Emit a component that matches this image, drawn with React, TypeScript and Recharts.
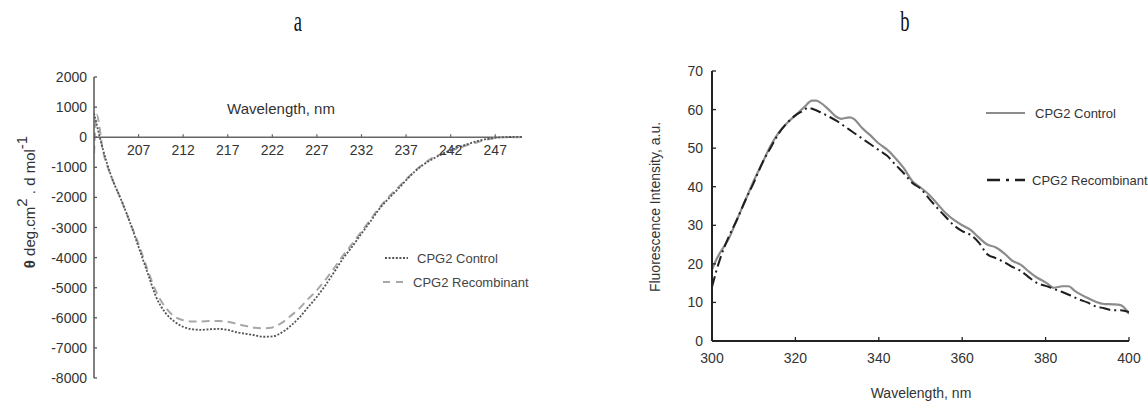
import React from 'react';
import { LineChart, Line, XAxis, YAxis, ReferenceLine, ReferenceDot } from 'recharts';

// ---------- Panel a: CD spectra ----------
const cdControlWavelengths = [202, 203, 204, 205, 206, 207, 208, 209, 210, 211, 212, 213, 214, 215, 216, 217, 218, 219, 220, 221, 222, 223, 224, 225, 226, 227, 228, 229, 230, 231, 232, 233, 234, 235, 236, 237, 238, 239, 240, 241, 242, 243, 244, 245, 246, 247, 248, 249, 250];
const cdControl = [800, -400, -1350, -2050, -2800, -3650, -4500, -5330, -5830, -6120, -6300, -6380, -6400, -6380, -6370, -6400, -6480, -6530, -6580, -6630, -6620, -6500, -6280, -6000, -5650, -5300, -4900, -4450, -4000, -3620, -3200, -2800, -2380, -2050, -1750, -1430, -1130, -900, -720, -560, -430, -320, -220, -130, -60, -20, 0, 10, 10];

const cdRecombinantWavelengths = [202, 202.3, 203, 204, 205, 206, 207, 208, 209, 210, 211, 212, 213, 214, 215, 216, 217, 218, 219, 220, 221, 222, 223, 224, 225, 226, 227, 228, 229, 230, 231, 232, 233, 234, 235, 236, 237, 238, 239, 240, 241, 242, 243, 244, 245, 246, 247, 248, 249, 250];
const cdRecombinant = [-550, 750, -450, -1350, -2050, -2800, -3550, -4400, -5150, -5650, -5950, -6080, -6120, -6120, -6110, -6110, -6130, -6200, -6270, -6330, -6350, -6320, -6180, -5950, -5700, -5380, -5080, -4720, -4320, -3900, -3530, -3130, -2740, -2340, -2000, -1700, -1400, -1120, -880, -680, -560, -450, -350, -250, -170, -80, -20, 0, 0, 0];

const cdXTicks = [207, 212, 217, 222, 227, 232, 237, 242, 247];
const cdYTicks = [2000, 1000, 0, -1000, -2000, -3000, -4000, -5000, -6000, -7000, -8000];

// ---------- Panel b: fluorescence spectra ----------
const flControlWavelengths = [300, 301, 302, 304, 306, 308, 310, 312, 314, 316, 318, 320, 322, 324, 325, 326, 328, 330, 331, 333, 334, 336, 338, 340, 342, 344, 346, 348, 350, 352, 354, 356, 358, 360, 362, 364, 366, 368, 370, 372, 374, 376, 378, 380, 382, 384, 385.5, 387, 390, 392, 394, 396, 398, 400];
const flControl = [18.5, 21, 23, 26.5, 31.5, 36.5, 41.5, 46, 50.5, 54, 56.5, 58.5, 60.5, 62.3, 62.3, 61.8, 60, 58, 57.6, 58, 57.6, 55.2, 53.3, 51.2, 49.6, 47.4, 44.8, 41.5, 39.8, 38, 35.6, 33.2, 31.4, 30, 28.8, 26.8, 25, 24.3, 22.8, 20.8, 19.8, 18, 16.4, 15.2, 13.8, 14.2, 14.2, 13, 11.2, 10.2, 9.6, 9.5, 9.3, 7];

const flRecombinantWavelengths = [300, 301, 302, 304, 306, 308, 310, 312, 314, 316, 318, 320, 322, 323, 324, 326, 328, 330, 332, 334, 336, 338, 340, 342, 344, 346, 348, 350, 352, 354, 356, 358, 360, 362, 364, 366, 368, 370, 372, 374, 376, 378, 380, 382, 384, 386, 388, 390, 392, 394, 396, 398, 400];
const flRecombinant = [14, 18, 21.5, 27, 31.5, 36.5, 41, 46, 50, 53.8, 56.5, 58.5, 59.8, 60.5, 60.2, 59.3, 58.2, 57, 55.5, 54, 52.5, 51, 49.5, 48, 45.7, 43.5, 41, 39.5, 37, 34.5, 32.2, 30, 28.5, 27.5, 25.5, 22.5, 21.5, 20.5, 19.2, 18.2, 16.5, 15, 14.3, 13.5, 12.7, 11.8, 10.8, 10, 9, 8.5, 8, 8, 7.5];

const flXTicks = [300, 320, 340, 360, 380, 400];
const flYTicks = [0, 10, 20, 30, 40, 50, 60, 70];

const zip = (xs: number[], ys: number[]) => xs.map((x, i) => ({ x, y: ys[i] }));

const cdControlData = zip(cdControlWavelengths, cdControl);
const cdRecombinantData = zip(cdRecombinantWavelengths, cdRecombinant);
const flControlData = zip(flControlWavelengths, flControl);
const flRecombinantData = zip(flRecombinantWavelengths, flRecombinant);

const SANS = '"Liberation Sans", Arial, Helvetica, sans-serif';
const SERIF = '"Liberation Serif", "Times New Roman", serif';
const TXT = '#333';

const makeYTick = (margin: number, len: number, color: string, fs: number) => (props: any) => {
  const { x, y, payload } = props;
  const ax = x + margin;
  return (
    <g>
      <line x1={ax} x2={ax + len} y1={y} y2={y} stroke={color} strokeWidth={1.3} />
      <text x={x} y={y} dy="0.36em" textAnchor="end" fontSize={fs} fill={TXT} fontFamily={SANS}>
        {payload.value}
      </text>
    </g>
  );
};

const makeXTick = (margin: number, len: number, color: string, fs: number) => (props: any) => {
  const { x, y, payload } = props;
  const ay = y - margin;
  return (
    <g>
      <line x1={x} x2={x} y1={ay} y2={ay - len} stroke={color} strokeWidth={1.3} />
      <text x={x} y={y} dy="0.72em" textAnchor="middle" fontSize={fs} fill={TXT} fontFamily={SANS}>
        {payload.value}
      </text>
    </g>
  );
};

const cdTickShape = (value: number) => (props: any) => {
  const { cx, cy } = props;
  return (
    <g>
      <line x1={cx} x2={cx} y1={cy} y2={cy - 3} stroke="#666" strokeWidth={1.2} />
      <text x={cx} y={cy + 8} dy="0.72em" textAnchor="middle" fontSize={14} fill={TXT} fontFamily={SANS}>
        {value}
      </text>
    </g>
  );
};

export default function App() {
  return (
    <div style={{ position: 'absolute', left: 0, top: 0, width: 1148, height: 403, background: '#fff', overflow: 'hidden' }}>
      {/* Panel a */}
      <div style={{ position: 'absolute', left: 0, top: 0 }}>
        <LineChart width={560} height={403} margin={{ top: 77, right: 38, bottom: 25, left: 0 }}>
          <XAxis type="number" dataKey="x" domain={[202, 250]} hide allowDataOverflow />
          <YAxis
            type="number"
            domain={[-8000, 2000]}
            ticks={cdYTicks}
            width={94}
            tickSize={0}
            tickMargin={7}
            axisLine={{ stroke: '#555', strokeWidth: 1.5 }}
            tick={makeYTick(7, 3, '#555', 14)}
            interval={0}
            allowDataOverflow
          />
          <ReferenceLine y={0} stroke="#666" strokeWidth={1.6} />
          {cdXTicks.map((t) => (
            <ReferenceDot key={t} x={t} y={0} r={0} shape={cdTickShape(t)} />
          ))}
          <Line
            data={cdRecombinantData}
            dataKey="y"
            type="monotone"
            stroke="#a8a8a8"
            strokeWidth={2}
            strokeDasharray="8 5"
            dot={false}
            isAnimationActive={false}
          />
          <Line
            data={cdControlData}
            dataKey="y"
            type="monotone"
            stroke="#555"
            strokeWidth={1.8}
            strokeDasharray="2 1.6"
            dot={false}
            isAnimationActive={false}
          />
        </LineChart>
      </div>

      {/* Panel b */}
      <div style={{ position: 'absolute', left: 580, top: 0 }}>
        <LineChart width={568} height={403} margin={{ top: 71, right: 19, bottom: 32, left: 92 }}>
          <XAxis
            type="number"
            dataKey="x"
            domain={[300, 400]}
            ticks={flXTicks}
            height={30}
            tickSize={0}
            tickMargin={12}
            axisLine={{ stroke: '#222', strokeWidth: 2 }}
            tick={makeXTick(12, 4, '#222', 14)}
            interval={0}
            allowDataOverflow
          />
          <YAxis
            type="number"
            domain={[0, 70]}
            ticks={flYTicks}
            width={40}
            tickSize={0}
            tickMargin={9}
            axisLine={{ stroke: '#222', strokeWidth: 2 }}
            tick={makeYTick(9, 4, '#222', 14)}
            interval={0}
            allowDataOverflow
          />
          <Line
            data={flControlData}
            dataKey="y"
            type="monotone"
            stroke="#8c8c8c"
            strokeWidth={2.2}
            dot={false}
            isAnimationActive={false}
          />
          <Line
            data={flRecombinantData}
            dataKey="y"
            type="monotone"
            stroke="#1e1e1e"
            strokeWidth={2}
            strokeDasharray="11 4 2 4"
            dot={false}
            isAnimationActive={false}
          />
        </LineChart>
      </div>

      {/* Overlay: titles, axis titles, legends */}
      <svg width={1148} height={403} style={{ position: 'absolute', left: 0, top: 0, pointerEvents: 'none' }}>
        <text x={298} y={31} textAnchor="middle" fontFamily={SERIF} fontSize={30} fill="#111" transform="translate(298 0) scale(0.62 1) translate(-298 0)">a</text>
        <text x={905} y={31} textAnchor="middle" fontFamily={SERIF} fontSize={30} fill="#111" transform="translate(905 0) scale(0.62 1) translate(-905 0)">b</text>

        {/* panel a axis titles */}
        <text x={281} y={114} textAnchor="middle" fontFamily={SANS} fontSize={15} fill={TXT}>Wavelength, nm</text>
        <text transform="translate(35 202) rotate(-90)" textAnchor="middle" fontFamily={SANS} fontSize={15} fill={TXT}>
          <tspan fontWeight="bold">θ</tspan>
          <tspan> deg.cm</tspan>
          <tspan dy={-8}>2</tspan>
          <tspan dy={8}> . d mol</tspan>
          <tspan dy={-8}>-1</tspan>
        </text>

        {/* panel a legend */}
        <line x1={385} x2={408} y1={258} y2={258} stroke="#555" strokeWidth={1.8} strokeDasharray="2 1.6" />
        <text x={417} y={258} dy="0.36em" fontFamily={SANS} fontSize={13} fill="#444">CPG2 Control</text>
        <line x1={383} x2={404} y1={282} y2={282} stroke="#a8a8a8" strokeWidth={2} strokeDasharray="7 6" />
        <text x={413} y={282} dy="0.36em" fontFamily={SANS} fontSize={13} fill="#444">CPG2 Recombinant</text>

        {/* panel b axis titles */}
        <text x={921} y={398} textAnchor="middle" fontFamily={SANS} fontSize={14} fill={TXT}>Wavelength, nm</text>
        <text transform="translate(660 207) rotate(-90)" textAnchor="middle" fontFamily={SANS} fontSize={14} fill={TXT}>Fluorescence Intensity, a.u.</text>

        {/* panel b legend */}
        <line x1={986} x2={1025} y1={113} y2={113} stroke="#8c8c8c" strokeWidth={2.2} />
        <text x={1035} y={113} dy="0.36em" fontFamily={SANS} fontSize={13} fill="#333">CPG2 Control</text>
        <line x1={987} x2={1025} y1={180} y2={180} stroke="#1e1e1e" strokeWidth={2.5} strokeDasharray="13 6 3 6" />
        <text x={1032} y={180} dy="0.36em" fontFamily={SANS} fontSize={13} fill="#333">CPG2 Recombinant</text>
      </svg>
    </div>
  );
}
